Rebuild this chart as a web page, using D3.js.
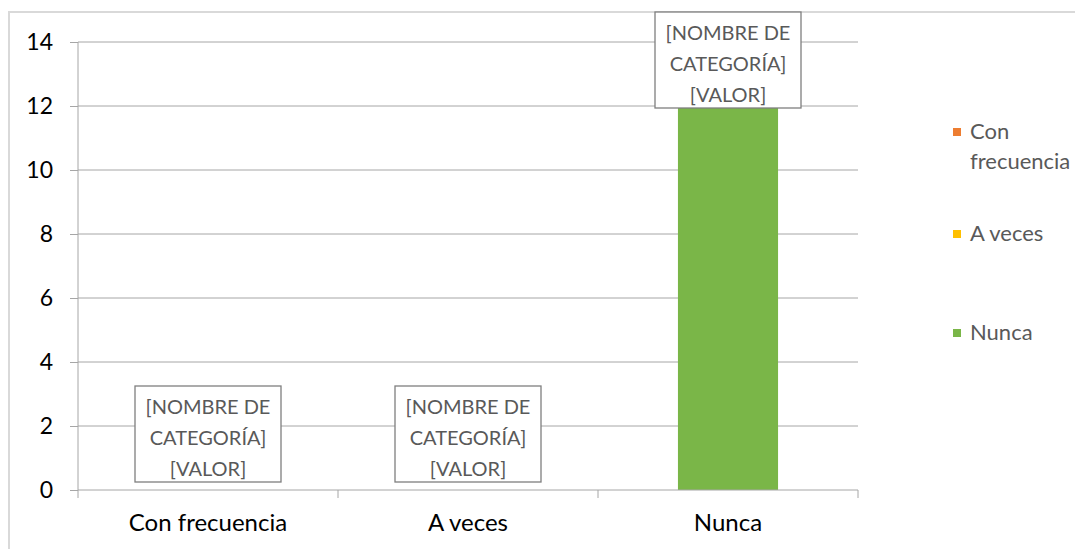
<!DOCTYPE html>
<html>
<head>
<meta charset="utf-8">
<script src="https://cdn.jsdelivr.net/npm/d3@7"></script>
<style>
  body { margin: 0; background: #fff; }
  svg text { font-family: Lato, "Open Sans", sans-serif; }
</style>
</head>
<body>
<div class="barChart"></div>
<script>
// chart data
var categories = ["Con frecuencia", "A veces", "Nunca"];
var values = [0, 0, 13];
var legendNames = ["Con frecuencia", "A veces", "Nunca"];
var legendColors = ["#ED7D31", "#FFC000", "#7AB648"];
var yTicks = [0, 2, 4, 6, 8, 10, 12, 14];
var labelLines = ["[NOMBRE DE", "CATEGORÍA]", "[VALOR]"];

var width = 1075, height = 549;
var margin = { top: 42, left: 78, right: 217, bottom: 59 };
var plotW = width - margin.left - margin.right;
var plotH = height - margin.top - margin.bottom;

var svg = d3.select(".barChart").append("svg")
    .attr("width", width)
    .attr("height", height);

// outer chart border (only top and left visible)
svg.append("path")
    .attr("d", "M9," + height + "V12H" + width)
    .attr("fill", "none")
    .attr("stroke", "#d9d9d9")
    .attr("stroke-width", 2);

var g = svg.append("g")
    .attr("transform", "translate(" + margin.left + "," + margin.top + ")");

var x = d3.scaleBand().domain(categories).range([0, plotW]).paddingInner(0.615).paddingOuter(0.3075);
var xb = d3.scaleBand().domain(categories).range([0, plotW]);
var y = d3.scaleLinear().domain([0, 14]).range([plotH, 0]);

// gridlines
g.selectAll(".grid").data(yTicks.filter(function(d) { return d > 0; }))
  .enter().append("line")
    .attr("x1", 0).attr("x2", plotW)
    .attr("y1", function(d) { return y(d); })
    .attr("y2", function(d) { return y(d); })
    .attr("stroke", "#a6a6a6").attr("stroke-width", 1);

// bars
g.selectAll(".bar").data(values)
  .enter().append("rect")
    .attr("x", function(d, i) { return x(categories[i]); })
    .attr("width", x.bandwidth())
    .attr("y", function(d) { return y(d); })
    .attr("height", function(d) { return plotH - y(d); })
    .attr("fill", legendColors[2]);

// y axis
var yAxis = d3.axisLeft(y).tickValues(yTicks).tickSize(8).tickPadding(17);
var ya = g.append("g").call(yAxis);
ya.attr("font-family", null).attr("font-size", null);
ya.select(".domain").attr("stroke", "#a6a6a6").attr("d", "M0,0V" + plotH);
ya.selectAll(".tick line").attr("stroke", "#a6a6a6");
ya.selectAll("text").attr("font-size", 23).attr("fill", "#000");

// x axis with tick marks at category boundaries
var xa = g.append("g").attr("transform", "translate(0," + plotH + ")");
xa.append("line").attr("x1", 0).attr("x2", plotW).attr("stroke", "#a6a6a6");
var bounds = categories.map(function(c) { return xb(c); }).concat([plotW]);
xa.selectAll(".xt").data(bounds).enter().append("line")
    .attr("x1", function(d) { return d; }).attr("x2", function(d) { return d; })
    .attr("y1", 0).attr("y2", 8).attr("stroke", "#a6a6a6");
xa.selectAll(".xl").data(categories).enter().append("text")
    .attr("x", function(d) { return xb(d) + xb.bandwidth() / 2; })
    .attr("y", 41)
    .attr("text-anchor", "middle")
    .attr("font-size", 24)
    .attr("fill", "#000")
    .text(function(d) { return d; });

// data labels (outside end, clamped to chart top)
var boxW = 146, boxH = 96;
values.forEach(function(v, i) {
  var cx = x(categories[i]) + x.bandwidth() / 2;
  var top = Math.max(y(v) - 8 - boxH, 12 - margin.top);
  var lb = g.append("g").attr("transform", "translate(" + (cx - boxW / 2) + "," + top + ")");
  lb.append("rect").attr("width", boxW).attr("height", boxH)
    .attr("fill", "#fff").attr("stroke", "#7f7f7f").attr("stroke-width", 1.3);
  lb.selectAll("text").data(labelLines).enter().append("text")
    .attr("x", boxW / 2)
    .attr("y", function(d, j) { return 28 + j * 31; })
    .attr("text-anchor", "middle")
    .attr("font-size", 20)
    .attr("fill", "#595959")
    .text(function(d) { return d; });
});

// legend
var legendY = [132, 234, 333];
var lg = svg.append("g");
legendNames.forEach(function(n, i) {
  lg.append("rect").attr("x", 953).attr("y", legendY[i] - 4).attr("width", 8).attr("height", 8)
    .attr("fill", legendColors[i]);
  var words = n === "Con frecuencia" ? ["Con", "frecuencia"] : [n];
  words.forEach(function(w, j) {
    lg.append("text").attr("x", 970).attr("y", legendY[i] + 7 + j * 30)
      .attr("font-size", 22).attr("fill", "#595959").text(w);
  });
});
</script>
</body>
</html>
